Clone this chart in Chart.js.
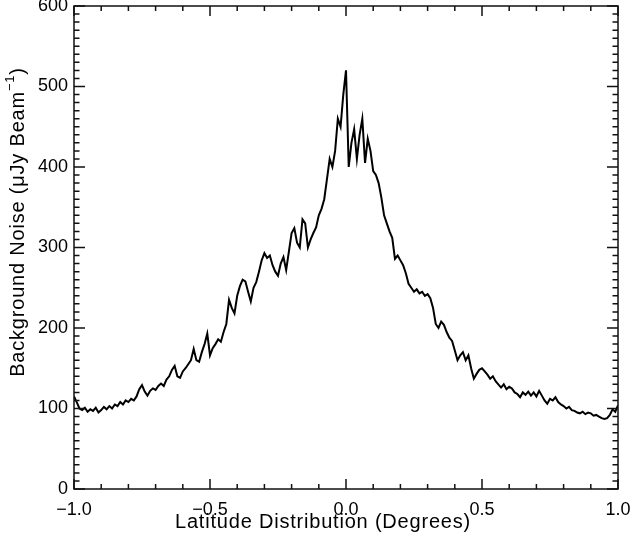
<!DOCTYPE html>
<html>
<head>
<meta charset="utf-8">
<script src="https://cdn.jsdelivr.net/npm/chart.js@4.4.1/dist/chart.umd.min.js"></script>
<style>
  html, body { margin: 0; padding: 0; background: #fff; }
  #wrap { position: relative; width: 633px; height: 541px; }
</style>
</head>
<body>
<div id="wrap"><canvas id="c" width="633" height="541"></canvas></div>
<script>
// Latitude (degrees) sample positions
const latitude = [
-1.00,-0.99,-0.98,-0.97,-0.96,-0.95,-0.94,-0.93,-0.92,-0.91,
-0.90,-0.89,-0.88,-0.87,-0.86,-0.85,-0.84,-0.83,-0.82,-0.81,
-0.80,-0.79,-0.78,-0.77,-0.76,-0.75,-0.74,-0.73,-0.72,-0.71,
-0.70,-0.69,-0.68,-0.67,-0.66,-0.65,-0.64,-0.63,-0.62,-0.61,
-0.60,-0.59,-0.58,-0.57,-0.56,-0.55,-0.54,-0.53,-0.52,-0.51,
-0.50,-0.49,-0.48,-0.47,-0.46,-0.45,-0.44,-0.43,-0.42,-0.41,
-0.40,-0.39,-0.38,-0.37,-0.36,-0.35,-0.34,-0.33,-0.32,-0.31,
-0.30,-0.29,-0.28,-0.27,-0.26,-0.25,-0.24,-0.23,-0.22,-0.21,
-0.20,-0.19,-0.18,-0.17,-0.16,-0.15,-0.14,-0.13,-0.12,-0.11,
-0.10,-0.09,-0.08,-0.07,-0.06,-0.05,-0.04,-0.03,-0.02,-0.01,
0.00,0.01,0.02,0.03,0.04,0.05,0.06,0.07,0.08,0.09,
0.10,0.11,0.12,0.13,0.14,0.15,0.16,0.17,0.18,0.19,
0.20,0.21,0.22,0.23,0.24,0.25,0.26,0.27,0.28,0.29,
0.30,0.31,0.32,0.33,0.34,0.35,0.36,0.37,0.38,0.39,
0.40,0.41,0.42,0.43,0.44,0.45,0.46,0.47,0.48,0.49,
0.50,0.51,0.52,0.53,0.54,0.55,0.56,0.57,0.58,0.59,
0.60,0.61,0.62,0.63,0.64,0.65,0.66,0.67,0.68,0.69,
0.70,0.71,0.72,0.73,0.74,0.75,0.76,0.77,0.78,0.79,
0.80,0.81,0.82,0.83,0.84,0.85,0.86,0.87,0.88,0.89,
0.90,0.91,0.92,0.93,0.94,0.95,0.96,0.97,0.98,0.99,
1.00
];

// Background noise (uJy/beam)
const noise = [
115,108,100,98,101,96,99,97,101,95,
98,102,99,103,100,105,103,108,105,110,
108,112,110,115,124,129,121,116,122,125,
123,128,131,128,136,140,148,153,140,138,
146,150,155,160,174,160,158,170,180,193,
166,175,180,186,183,195,205,235,225,218,
240,252,260,258,245,233,250,257,270,284,
293,287,290,278,270,265,280,288,272,295,
318,324,306,300,335,330,300,310,318,325,
340,348,360,385,410,400,420,460,450,490,
520,400,430,447,410,440,460,405,435,420,
395,390,380,362,340,330,320,312,286,290,
284,278,268,255,250,245,248,243,245,240,
242,237,225,205,200,208,204,195,188,184,
172,160,166,170,160,166,150,137,143,148,
150,146,142,137,140,134,130,126,130,124,
127,125,120,118,114,120,117,121,116,120,
115,122,116,110,106,112,110,114,108,105,
103,100,102,98,97,95,94,96,93,95,
94,91,92,90,88,87,88,92,99,96,
104
];

const xTickValues = [-1.0, -0.5, 0.0, 0.5, 1.0];
const yTickValues = [0, 100, 200, 300, 400, 500, 600];
const xTitle = 'Latitude Distribution (Degrees)';
const yTitleMain = 'Background Noise (\u03BCJy Beam';
const yTitleSup = '\u22121';
const yTitleEnd = ')';

const FONT = "'Liberation Sans', Arial, Helvetica, sans-serif";
Chart.defaults.font.family = FONT;
Chart.defaults.color = '#000';

const points = latitude.map((x, i) => ({ x: x, y: noise[i] }));

const framePlugin = {
  id: 'frame',
  afterDatasetsDraw(chart) {
    const { ctx, chartArea: a, scales } = chart;
    const xs = scales.x, ys = scales.y;
    ctx.save();
    ctx.strokeStyle = '#111';
    ctx.lineWidth = 1.5;
    ctx.strokeRect(a.left, a.top, a.right - a.left, a.bottom - a.top);
    ctx.beginPath();
    for (let k = -10; k <= 10; k++) {
      const px = xs.getPixelForValue(k / 10);
      const L = (k % 5 === 0) ? 10 : 5;
      ctx.moveTo(px, a.bottom); ctx.lineTo(px, a.bottom - L);
      ctx.moveTo(px, a.top); ctx.lineTo(px, a.top + L);
    }
    for (let k = 0; k <= 60; k++) {
      const py = ys.getPixelForValue(k * 10);
      const L = (k % 10 === 0) ? 11 : 5.5;
      ctx.moveTo(a.left, py); ctx.lineTo(a.left + L, py);
      ctx.moveTo(a.right, py); ctx.lineTo(a.right - L, py);
    }
    ctx.stroke();
    ctx.restore();
  },
  afterDraw(chart) {
    const { ctx } = chart;
    const F = '20px ' + FONT, FS = '13px ' + FONT;
    ctx.save();
    ctx.fillStyle = '#000';
    ctx.letterSpacing = '0.8px';
    ctx.font = F;
    ctx.textAlign = 'center';
    ctx.textBaseline = 'middle';
    ctx.fillText(xTitle, 323, 522);
    ctx.translate(18, 222);
    ctx.rotate(-Math.PI / 2);
    const wMain = ctx.measureText(yTitleMain).width;
    ctx.font = FS;
    const wSup = ctx.measureText(yTitleSup).width;
    ctx.font = F;
    const wEnd = ctx.measureText(yTitleEnd).width;
    const total = wMain + wSup + wEnd;
    const x0 = -total / 2;
    ctx.textAlign = 'left';
    ctx.fillText(yTitleMain, x0, 0);
    ctx.font = FS;
    ctx.fillText(yTitleSup, x0 + wMain, -8);
    ctx.font = F;
    ctx.fillText(yTitleEnd, x0 + wMain + wSup, 0);
    ctx.restore();
  }
};

new Chart(document.getElementById('c'), {
  type: 'line',
  data: {
    datasets: [{
      data: points,
      borderColor: '#000',
      borderWidth: 2,
      pointRadius: 0,
      tension: 0,
      fill: false
    }]
  },
  options: {
    responsive: false,
    animation: false,
    events: [],
    layout: { padding: { top: 6, right: 15, left: 0, bottom: 0 } },
    plugins: { legend: { display: false }, tooltip: { enabled: false }, title: { display: false } },
    scales: {
      x: {
        type: 'linear',
        min: -1, max: 1,
        grid: { display: false, drawTicks: false },
        border: { display: false },
        afterBuildTicks(s) { s.ticks = xTickValues.map(v => ({ value: v })); },
        ticks: {
          padding: 10,
          maxRotation: 0,
          autoSkip: false,
          font: { size: 18 },
          color: '#000',
          callback: v => (v < 0 ? '\u2212' : '') + Math.abs(v).toFixed(1)
        },
        afterFit(s) { s.height = 52; s.paddingLeft = 0; s.paddingRight = 0; }
      },
      y: {
        min: 0, max: 600,
        grid: { display: false, drawTicks: false },
        border: { display: false },
        afterBuildTicks(s) { s.ticks = yTickValues.map(v => ({ value: v })); },
        ticks: {
          padding: 6,
          font: { size: 18 },
          color: '#000',
          callback: v => String(v)
        },
        afterFit(s) { s.width = 74; s.paddingTop = 0; s.paddingBottom = 0; }
      }
    }
  },
  plugins: [framePlugin]
});
</script>
</body>
</html>
